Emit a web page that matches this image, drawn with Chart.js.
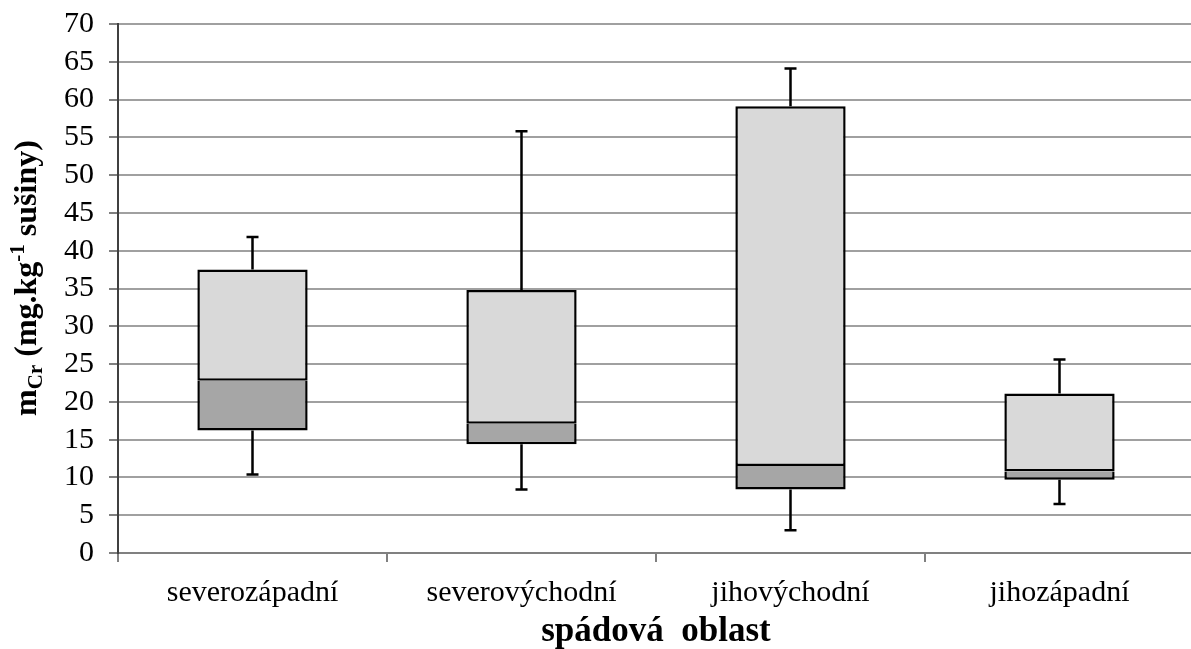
<!DOCTYPE html>
<html>
<head>
<meta charset="utf-8">
<script src="https://cdn.jsdelivr.net/npm/chart.js@4/dist/chart.umd.min.js"></script>
<style>
html,body{margin:0;padding:0;background:#fff;overflow:hidden;}
#wrap{position:relative;width:1200px;height:649px;}
</style>
</head>
<body>
<div id="wrap"><canvas id="c"></canvas></div>
<script>
const categories = ['severozápadní', 'severovýchodní', 'jihovýchodní', 'jihozápadní'];
const minVals    = [10.4, 8.4, 3.0, 6.5];
const q1Vals     = [16.2, 14.4, 8.4, 9.7];
const medianVals = [22.8, 17.1, 11.5, 10.8];
const q3Vals     = [37.5, 34.8, 59.1, 21.1];
const maxVals    = [41.8, 55.8, 64.1, 25.6];
const yTickMin = 0, yTickMax = 70, yTickStep = 5;

const SERIF = '"Liberation Serif", "Times New Roman", serif';
const FS = 30;

const whiskerPlugin = {
  id: 'whiskers',
  afterDatasetsDraw(chart) {
    const ctx = chart.ctx;
    const y = chart.scales.y;
    const meta = chart.getDatasetMeta(0);
    ctx.save();
    ctx.strokeStyle = '#000';
    ctx.lineWidth = 2.5;
    meta.data.forEach((bar, i) => {
      const x = bar.x;
      const segs = [[q3Vals[i], maxVals[i]], [q1Vals[i], minVals[i]]];
      segs.forEach(([from, to]) => {
        const y1 = y.getPixelForValue(from), y2 = y.getPixelForValue(to);
        ctx.beginPath();
        ctx.moveTo(x, y1); ctx.lineTo(x, y2);
        ctx.moveTo(x - 6, y2); ctx.lineTo(x + 6, y2);
        ctx.stroke();
      });
    });
    ctx.restore();
  }
};

const yTitlePlugin = {
  id: 'ytitle',
  afterDraw(chart) {
    const ctx = chart.ctx;
    const parts = [
      {t: 'm', size: 32, dy: 0},
      {t: 'Cr', size: 21, dy: 6},
      {t: ' (mg.kg', size: 32, dy: 0},
      {t: '-1', size: 21, dy: -12},
      {t: ' sušiny)', size: 32, dy: 0}
    ];
    ctx.save();
    let total = 0;
    parts.forEach(p => { ctx.font = 'bold ' + p.size + 'px ' + SERIF; p.w = ctx.measureText(p.t).width; total += p.w; });
    ctx.translate(25, 278);
    ctx.rotate(-Math.PI / 2);
    ctx.fillStyle = '#000';
    ctx.textBaseline = 'alphabetic';
    let x = -total / 2;
    parts.forEach(p => {
      ctx.font = 'bold ' + p.size + 'px ' + SERIF;
      ctx.fillText(p.t, x, 11 + p.dy);
      x += p.w;
    });
    ctx.restore();
  }
};

new Chart(document.getElementById('c'), {
  type: 'bar',
  data: {
    labels: categories,
    datasets: [
      {
        label: 'lower',
        data: q1Vals.map((q, i) => [q, medianVals[i]]),
        backgroundColor: '#a6a6a6',
        borderColor: '#000',
        borderWidth: 2.5,
        borderSkipped: 'end',
        grouped: false,
        barPercentage: 0.41,
        categoryPercentage: 1
      },
      {
        label: 'upper',
        data: medianVals.map((m, i) => [m, q3Vals[i]]),
        backgroundColor: '#d9d9d9',
        borderColor: '#000',
        borderWidth: 2.5,
        borderSkipped: false,
        grouped: false,
        barPercentage: 0.41,
        categoryPercentage: 1
      }
    ]
  },
  options: {
    responsive: true,
    maintainAspectRatio: false,
    animation: false,
    layout: { padding: { top: 22, right: 6, left: 0, bottom: 0 } },
    plugins: { legend: { display: false }, tooltip: { enabled: false } },
    scales: {
      x: {
        offset: true,
        grid: { display: true, drawOnChartArea: false, drawTicks: true, tickLength: 9, tickColor: '#808080', offset: true, lineWidth: 2 },
        border: { color: '#808080', width: 2 },
        ticks: { color: '#000', font: { family: SERIF, size: FS }, padding: 13, maxRotation: 0, autoSkip: false },
        title: { display: true, text: 'spádová  oblast', color: '#000', font: { family: SERIF, size: 35, weight: 'bold', lineHeight: 1.0 }, padding: { top: 4, bottom: 0 } },
        afterFit(scale) { scale.height = 96; }
      },
      y: {
        min: yTickMin, max: yTickMax,
        ticks: { stepSize: yTickStep, autoSkip: false, color: '#000', font: { family: SERIF, size: FS, lineHeight: 0.6 }, padding: 15 },
        grid: { color: '#a0a0a0', lineWidth: 2, drawTicks: true, tickLength: 9, tickColor: '#808080' },
        border: { color: '#404040', width: 2 },
        afterFit(scale) { scale.width = 118; }
      }
    }
  },
  plugins: [whiskerPlugin, yTitlePlugin]
});
</script>
</body>
</html>
